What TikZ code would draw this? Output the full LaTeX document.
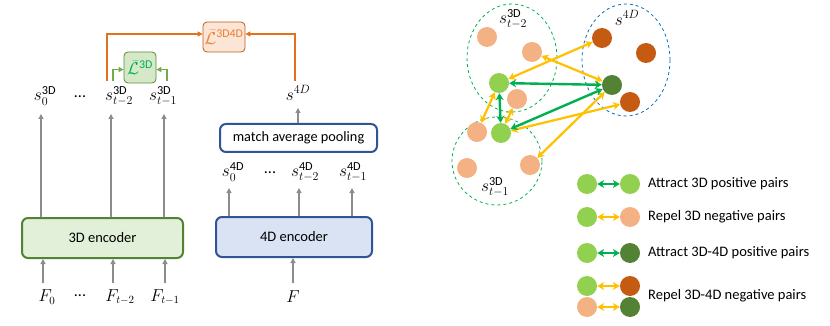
\documentclass[tikz,border=0pt]{standalone}
\usepackage{fontspec}
\setmainfont{Carlito}
\usetikzlibrary{arrows.meta,shapes.geometric,calc}
\definecolor{arrgray}{HTML}{8C8C8C}
\definecolor{encgreen}{HTML}{548235}
\definecolor{encgreenfill}{HTML}{E2F0D9}
\definecolor{encblue}{HTML}{2F5597}
\definecolor{encbluefill}{HTML}{DAE3F3}
\definecolor{lossor}{HTML}{C55A11}
\definecolor{lossorfill}{HTML}{FBE5D6}
\definecolor{lossortext}{HTML}{ED7D31}
\definecolor{orline}{HTML}{E2711D}
\definecolor{lossgr}{HTML}{70AD47}
\definecolor{lossgrfill}{HTML}{D5E8C8}
\definecolor{lossgrtext}{HTML}{00B050}
\definecolor{cLg}{HTML}{92D050}
\definecolor{cPe}{HTML}{F4B183}
\definecolor{cBr}{HTML}{C55A11}
\definecolor{cDg}{HTML}{548235}
\definecolor{aGreen}{HTML}{00B050}
\definecolor{aYellow}{HTML}{FFC000}
\definecolor{elGreen}{HTML}{00B050}
\definecolor{elBlue}{HTML}{0070C0}
\begin{document}
\begin{tikzpicture}[x=1pt,y=-1pt,
  font=\fontsize{14.5}{17}\selectfont,
  mlabel/.style={font=\fontsize{17.5}{20}\selectfont, inner sep=0pt},
  flabel/.style={font=\fontsize{16}{19}\selectfont, inner sep=0pt},
  garrow/.style={draw=arrgray, line width=1.1pt, -{Triangle[length=5pt,width=5pt]}},
  encthree/.style={draw=encgreen, fill=encgreenfill, line width=2pt, rounded corners=6pt, minimum width=161pt, minimum height=40pt},
  encfour/.style={draw=encblue, fill=encbluefill, line width=2pt, rounded corners=6pt, minimum width=156pt, minimum height=40pt},
  poolbox/.style={draw=encblue, fill=white, line width=2pt, rounded corners=6pt, minimum width=157pt, minimum height=28pt, font=\fontsize{14.3}{17}\selectfont},
  lossA/.style={draw=lossor, fill=lossorfill, line width=0.8pt, rounded corners=4pt, minimum width=42pt, minimum height=30pt, text=lossortext, inner sep=0pt, font=\fontsize{17}{20}\selectfont},
  lossB/.style={draw=lossgr!80!black, fill=lossgrfill, line width=0.8pt, rounded corners=4pt, minimum width=32pt, minimum height=31pt, text=lossgrtext, inner sep=0pt, font=\fontsize{17}{20}\selectfont},
  oline/.style={draw=orline, line width=1.1pt, -{Triangle[length=5pt,width=5pt]}},
  gline/.style={draw=lossgr, line width=1.1pt, -{Triangle[length=5pt,width=5pt]}},
  circ/.style={circle, minimum size=20pt, inner sep=0pt, draw=none},
  lg/.style={circ, fill=cLg},
  pe/.style={circ, fill=cPe},
  br/.style={circ, fill=cBr},
  dg/.style={circ, fill=cDg},
  gpair/.style={draw=aGreen, line width=2.4pt, {Stealth[length=7pt,width=8pt]}-{Stealth[length=7pt,width=8pt]}},
  ypair/.style={draw=aYellow, line width=2.2pt, {Stealth[length=7pt,width=8pt]}-{Stealth[length=7pt,width=8pt]}},
  elg/.style={ellipse, draw=elGreen, dashed, line width=0.8pt, inner sep=0pt},
  elb/.style={ellipse, draw=elBlue, dashed, line width=0.8pt, inner sep=0pt},
  legtext/.style={anchor=west, inner sep=0pt, font=\fontsize{14.5}{17}\selectfont}
]
\useasboundingbox (0,0) rectangle (830,326);

% ---------------- left: encoders ----------------
\node[encthree] (enc3) at (102.5,238) {3D encoder};
\node[encfour] (enc4) at (294,237) {4D encoder};
\node[poolbox] (pool) at (298.5,138) {match average pooling};

% inputs
\node[flabel] (f0) at (47,297) {$F_0$};
\node[flabel] (fd) at (80,296) {...};
\node[flabel] (f2) at (120,297) {$F_{t-2}$};
\node[flabel] (f1) at (165,297) {$F_{t-1}$};
\node[flabel] (ff) at (293,297) {$F$};
\coordinate (i0) at (43,283);
\coordinate (i2) at (113,283);
\coordinate (i1) at (165,283);
\coordinate (i4) at (293,283);
\draw[garrow] (i0) -- (i0 |- enc3.south);
\draw[garrow] (i2) -- (i2 |- enc3.south);
\draw[garrow] (i1) -- (i1 |- enc3.south);
\draw[garrow] (i4) -- (i4 |- enc4.south);

% 3D outputs
\coordinate (o0) at (41,114);
\coordinate (o2) at (111,114);
\coordinate (o1) at (164,114);
\draw[garrow] (o0 |- enc3.north) -- (o0);
\draw[garrow] (o2 |- enc3.north) -- (o2);
\draw[garrow] (o1 |- enc3.north) -- (o1);
\node[mlabel] (s30) at (45,96) {$s_0^{\mathrm{3D}}$};
\node[flabel] (s3d) at (80,97) {...};
\node[mlabel] (s32) at (119,96) {$s_{t-2}^{\mathrm{3D}}$};
\node[mlabel] (s31) at (163,96) {$s_{t-1}^{\mathrm{3D}}$};

% 4D outputs
\coordinate (p0) at (229,188);
\coordinate (p2) at (299,188);
\coordinate (p1) at (352,188);
\draw[garrow] (p0 |- enc4.north) -- (p0);
\draw[garrow] (p2 |- enc4.north) -- (p2);
\draw[garrow] (p1 |- enc4.north) -- (p1);
\node[mlabel] (s40) at (233,172) {$s_0^{\mathrm{4D}}$};
\node[flabel] (s4d) at (270,173) {...};
\node[mlabel] (s42) at (305,172) {$s_{t-2}^{\mathrm{4D}}$};
\node[mlabel] (s41) at (353,172) {$s_{t-1}^{\mathrm{4D}}$};

% pooling output
\coordinate (q) at (298,108);
\draw[garrow] (q |- pool.north) -- (q);
\node[mlabel] (s4) at (298,93) {$s^{4D}$};

% losses
\node[lossA] (l34) at (224,37) {$\bar{\mathcal{L}}^{\mathrm{3D4D}}$};
\node[lossB] (l3) at (140,67.5) {$\bar{\mathcal{L}}^{\mathrm{3D}}$};
\coordinate (c34a) at (107,81);
\coordinate (c34b) at (295,81);
\coordinate (c3a) at (113,81);
\coordinate (c3b) at (167,81);
\draw[oline] (c34a) |- ([yshift=3pt]l34.west);
\draw[oline] (c34b) |- ([yshift=3pt]l34.east);
\draw[gline] (c3a) |- ([yshift=-2pt]l3.west);
\draw[gline] (c3b) |- ([yshift=-2pt]l3.east);

% ---------------- right: embedding space ----------------
\node[elg, minimum width=90pt, minimum height=108pt] (e1) at (512,58) {};
\node[elg, minimum width=90pt, minimum height=88pt] (e2) at (497,161) {};
\node[elb, minimum width=88pt, minimum height=112pt] (e3) at (626,60) {};

\node[mlabel] (le1) at (513,19) {$s_{t-2}^{\mathrm{3D}}$};
\node[mlabel] (le3) at (627,18) {$s^{4D}$};
\node[mlabel] (le2) at (495,187) {$s_{t-1}^{\mathrm{3D}}$};

\node[pe] (pa) at (487,37) {};
\node[pe] (pb) at (532,52) {};
\node[lg] (ga) at (499,83) {};
\node[pe] (pc) at (517,99) {};
\node[pe] (pd) at (477,132) {};
\node[lg] (gb) at (501,133) {};
\node[pe] (pf) at (467,168) {};
\node[pe] (pg) at (530,165) {};
\node[br] (ba) at (602,38) {};
\node[br] (bb) at (646,53) {};
\node[dg] (da) at (612,85) {};
\node[br] (bc) at (630,102) {};

\draw[ypair] (ba) -- (ga);
\draw[ypair] (pb) -- (da);
\draw[ypair] (ga) -- (pd);
\draw[ypair] (pc) -- (gb);
\draw[ypair] (gb) -- (bc);
\draw[ypair] (da) -- (pg);
\draw[gpair] (ga) -- (da);
\draw[gpair] (ga) -- (gb);
\draw[gpair] (gb) -- (da);

% legend
\node[lg] (k1a) at (587,184) {};
\node[lg] (k1b) at (630,184) {};
\draw[gpair] (k1a) -- (k1b);
\node[legtext] (t1) at (648,184) {Attract 3D positive pairs};
\node[lg] (k2a) at (587,217) {};
\node[pe] (k2b) at (630,217) {};
\draw[ypair] (k2a) -- (k2b);
\node[legtext] (t2) at (648,217) {Repel 3D negative pairs};
\node[lg] (k3a) at (587,253) {};
\node[dg] (k3b) at (630,253) {};
\draw[gpair] (k3a) -- (k3b);
\node[legtext] (t3) at (648,253) {Attract 3D-4D positive pairs};
\node[lg] (k4a) at (587,286) {};
\node[br] (k4b) at (630,286) {};
\draw[ypair] (k4a) -- (k4b);
\node[pe] (k5a) at (587,307) {};
\node[dg] (k5b) at (630,307) {};
\draw[ypair] (k5a) -- (k5b);
\node[legtext] (t4) at (648,296) {Repel 3D-4D negative pairs};
\end{tikzpicture}
\end{document}
